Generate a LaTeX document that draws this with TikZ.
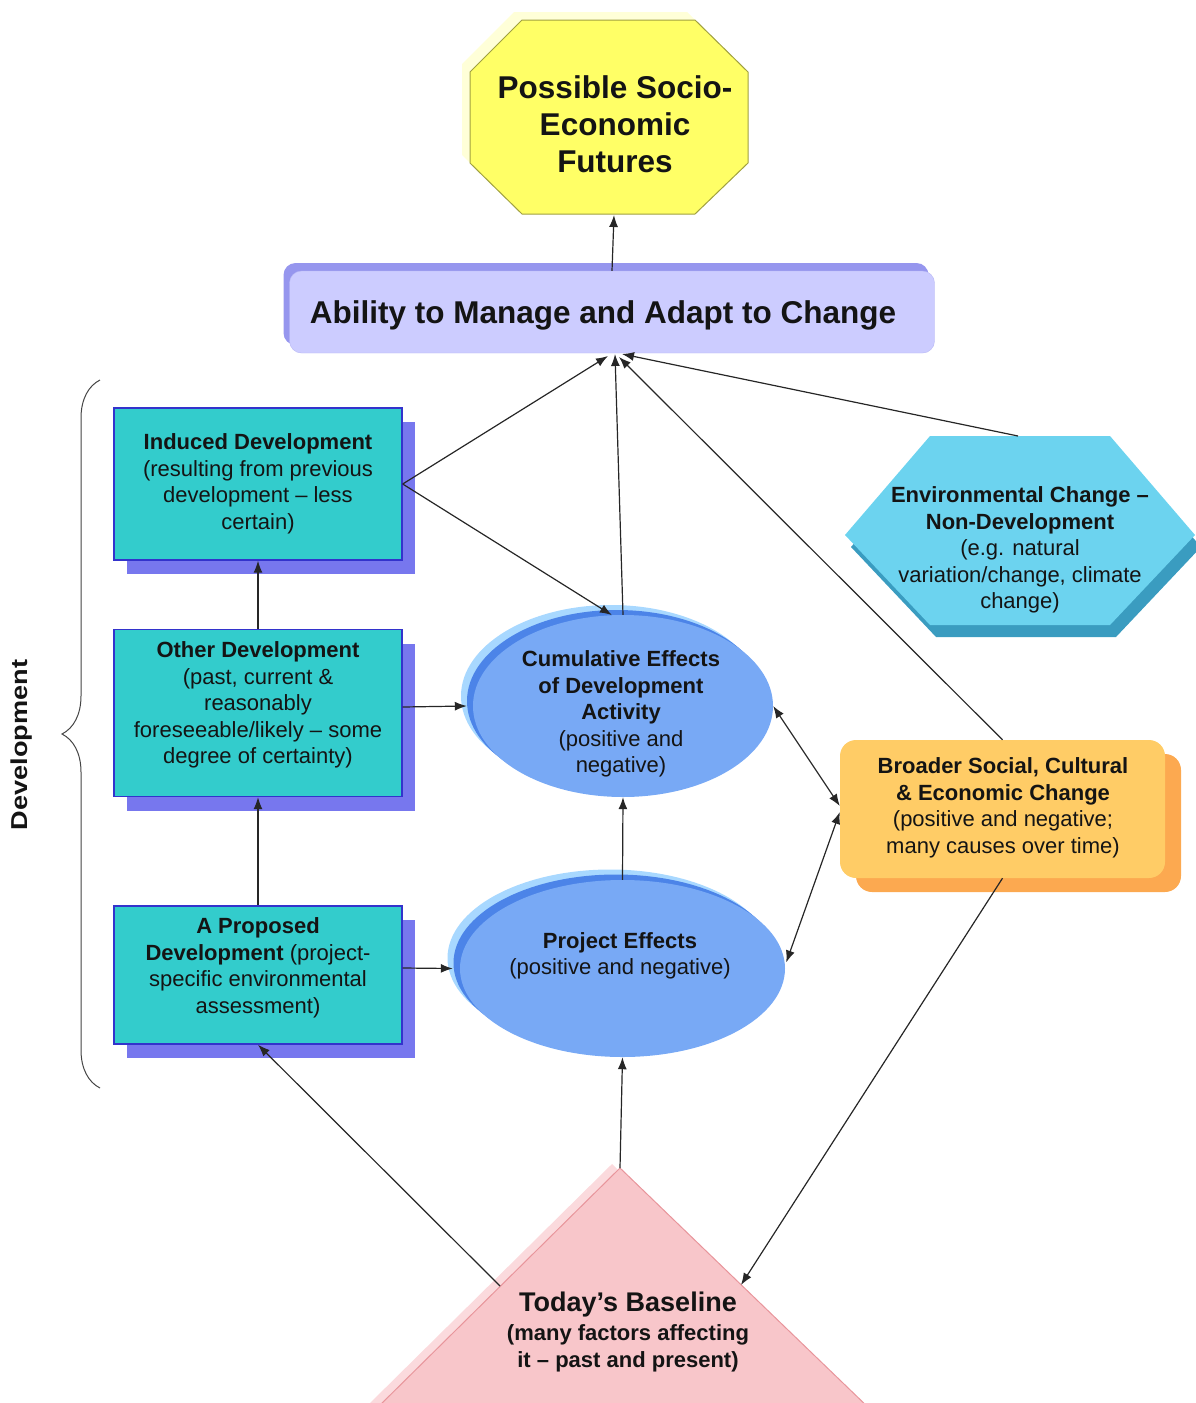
\documentclass[tikz,border=0pt]{standalone}
\usepackage{graphicx}
\usepackage{fontspec}
\setmainfont{Liberation Sans}
\usetikzlibrary{arrows.meta,shapes.geometric,shadows,decorations.pathreplacing,calc}

\definecolor{octfill}{HTML}{FFFF66}
\definecolor{octline}{HTML}{A0A040}
\definecolor{octshadow}{HTML}{FFFFD8}
\definecolor{barfill}{HTML}{CCCCFF}
\definecolor{barline}{HTML}{B8B8F4}
\definecolor{barshadow}{HTML}{9696EE}
\definecolor{tealfill}{HTML}{33CCCC}
\definecolor{tealline}{HTML}{3333CC}
\definecolor{tealshadow}{HTML}{7777EE}
\definecolor{ellfill}{HTML}{78A9F5}
\definecolor{ellrim}{HTML}{4C84E8}
\definecolor{ellhalo}{HTML}{A8D8FF}
\definecolor{hexfill}{HTML}{6CD3EF}
\definecolor{hexshadow}{HTML}{3A9CC0}
\definecolor{orfill}{HTML}{FFCC66}
\definecolor{orshadow}{HTML}{FCA950}
\definecolor{trifill}{HTML}{F8C6CA}
\definecolor{triline}{HTML}{E8959B}
\definecolor{trishadow}{HTML}{FBDADD}
\definecolor{txt}{HTML}{141414}
\definecolor{brc}{HTML}{444444}

\begin{document}
\begin{tikzpicture}[x=1pt,y=-1pt,
  arr/.style={draw=black!85, line width=1.2pt, -{Latex[length=12pt,width=9pt]}},
  darr/.style={draw=black!85, line width=1.2pt, {Latex[length=12pt,width=9pt]}-{Latex[length=12pt,width=9pt]}},
  lbl/.style={align=center, text=txt, inner sep=0pt, font=\fontsize{22}{26.5}\selectfont},
  big/.style={align=center, text=txt, inner sep=0pt, font=\fontsize{31.5}{37}\selectfont\bfseries},
  tealbox/.style={draw=tealline, line width=1.4pt, fill=tealfill, inner sep=0pt, minimum width=288pt,
     drop shadow={shadow xshift=13pt, shadow yshift=-14pt, fill=tealshadow, opacity=1}},
]
\useasboundingbox (0,0) rectangle (1196,1403);
\clip (0,0) rectangle (1196,1403);

% ---------- octagon ----------
\fill[octshadow] (514,12) -- (687,12) -- (740,64) -- (740,155) -- (687,206) -- (514,206) -- (462,155) -- (462,64) -- cycle;
\draw[octline, fill=octfill, line width=1pt] (522,20) -- (695,20) -- (748,72) -- (748,163) -- (695,214) -- (522,214) -- (470,163) -- (470,72) -- cycle;
\node[big] (fut) at (615,124) {Possible Socio-\\Economic\\Futures};
\coordinate (futs) at (614,215);

% ---------- bar ----------
\node[draw=barline, fill=barfill, rounded corners=12pt, minimum width=645pt, minimum height=82pt, inner sep=0pt,
  drop shadow={shadow xshift=-6pt, shadow yshift=8pt, fill=barshadow, opacity=1}] (abl) at (612,312) {};
\node[big] (ablt) at (603,315) {Ability to Manage and Adapt to Change};
\coordinate (ablS1) at (608,356);
\coordinate (ablS2) at (615,354);
\coordinate (ablS3) at (622,354);
\coordinate (ablS4) at (619,357);

% ---------- teal boxes ----------
\node[tealbox, minimum height=152pt] (ind) at (258,484) {};
\node[lbl] (indt) at (258,484) {\textbf{Induced Development}\\(resulting from previous\\development – less\\certain)};

\node[tealbox, minimum height=167pt] (oth) at (258,713) {};
\node[lbl] (otht) at (258,705) {\textbf{Other Development}\\(past, current \&\\reasonably\\foreseeable/likely – some\\degree of certainty)};

\node[tealbox, minimum height=138pt] (prop) at (258,975) {};
\node[lbl] (propt) at (258,968) {\textbf{A Proposed}\\\textbf{Development} (project-\\specific environmental\\assessment)};

% ---------- ellipses ----------
\fill[ellhalo] (611,696) ellipse [x radius=150, y radius=91];
\fill[ellrim] (617,701) ellipse [x radius=150, y radius=91];
\node[ellipse, fill=ellfill, minimum width=300pt, minimum height=182pt, inner sep=0pt] (cum) at (623,706) {};
\node[lbl] (cumt) at (621,714) {\textbf{Cumulative Effects}\\\textbf{of Development}\\\textbf{Activity}\\(positive and\\negative)};

\fill[ellhalo] (610,958) ellipse [x radius=162.5, y radius=88.5];
\fill[ellrim] (616,963) ellipse [x radius=162.5, y radius=88.5];
\node[ellipse, fill=ellfill, minimum width=325pt, minimum height=177pt, inner sep=0pt] (proj) at (622.5,968.5) {};
\node[lbl] (projt) at (620,956) {\textbf{Project Effects}\\(positive and negative)};

% ---------- hexagon ----------
\fill[hexshadow] (851,547) -- (936,448) -- (1116,448) -- (1201,547) -- (1116,637) -- (936,637) -- cycle;
\fill[hexfill] (845,535) -- (930,436) -- (1110,436) -- (1195,535) -- (1110,625) -- (930,625) -- cycle;
\node[lbl] (hext) at (1020,550) {\textbf{Environmental Change –}\\\textbf{Non-Development}\\(e.g. natural\\variation/change, climate\\change)};
\coordinate (hexn) at (1018,436);

% ---------- orange box ----------
\node[fill=orfill, rounded corners=16pt, minimum width=325pt, minimum height=138pt, inner sep=0pt,
  drop shadow={shadow xshift=16pt, shadow yshift=-14pt, fill=orshadow, opacity=1}] (bro) at (1002.5,809) {};
\node[lbl] (brot) at (1003,808) {\textbf{Broader Social, Cultural}\\\textbf{\& Economic Change}\\(positive and negative;\\many causes over time)};

% ---------- triangle ----------
\fill[trishadow] (612,1164) -- (367,1406) -- (863,1406) -- cycle;
\draw[triline, fill=trifill, line width=1pt] (620,1168) -- (375,1410) -- (871,1410) -- cycle;
\node[lbl, font=\fontsize{27}{30}\selectfont\bfseries] (trit1) at (628,1305) {Today’s Baseline};
\node[lbl, font=\fontsize{22}{27}\selectfont\bfseries] (trit2) at (628,1348) {(many factors affecting\\it – past and present)};
\coordinate (tria) at (620,1168);
\coordinate (tril) at (500,1286);
\coordinate (trir) at (741,1285);

% ---------- brace ----------
\coordinate (brb) at (100,1088);
\coordinate (brt) at (100,380);
\draw[brc, line width=1pt, decorate, decoration={brace, amplitude=38pt}] (brb) -- (brt);
\node[rotate=90, text=txt, inner sep=0pt, font=\fontsize{23}{26}\selectfont\bfseries] (devt) at (22,745) {\scalebox{1.18}[1]{Development}};

% ---------- connectors ----------
\draw[arr] (abl.north) -- (futs);
\draw[arr] (ind.east) -- (ablS1);
\draw[arr] (ind.east) -- (cum.97);
\draw[arr] (cum.north) -- (ablS2);
\draw[arr] (hexn) -- (ablS3);
\draw[arr] (bro.north) -- (ablS4);
\draw[arr] (oth.north) -- (ind.south);
\draw[arr] ($(oth.east)+(0,-6)$) -- ($(cum.west)+(-6,0)$);
\draw[arr] (prop.north) -- (oth.south);
\draw[arr] ($(prop.east)+(0,-7)$) -- ($(proj.west)+(-7,0)$);
\draw[arr] (proj.north) -- (cum.south);
\draw[darr] (cum.east) -- ($(bro.west)+(0,-3)$);
\draw[darr] ($(proj.east)+(1,-6)$) -- ($(bro.west)+(0,3)$);
\draw[arr] (tria) -- (proj.south);
\draw[arr] (tril) -- (prop.south);
\draw[arr] (bro.south) -- (trir);
\end{tikzpicture}
\end{document}
